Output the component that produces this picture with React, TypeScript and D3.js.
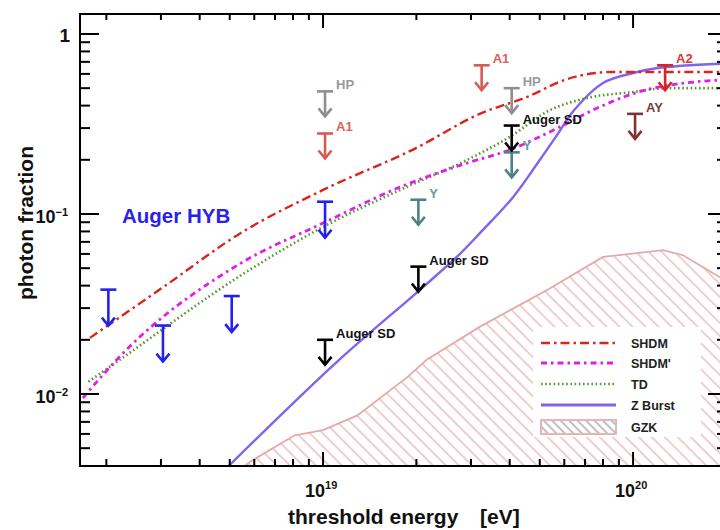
import React from 'react';
import * as d3 from 'd3';

const W = 720;
const H = 530;
const X0 = 80;
const X1 = 727;
const Y0 = 14;
const Y1 = 466;
const FONT = '"Liberation Sans", Arial, Helvetica, sans-serif';

// Model predictions: threshold energy [eV] and photon fraction
const shdmE = [1.77e18, 3.1e18, 5.4e18, 1e19, 2e19, 3.2e19, 4.6e19, 6e19, 8.6e19, 2.1e20];
const shdmF = [0.0205, 0.04, 0.078, 0.136, 0.233, 0.36, 0.45, 0.555, 0.615, 0.615];

const shdmPE = [1.68e18, 2.16e18, 5.4e18, 1e19, 1.77e19, 2.92e19, 4e19, 5.8e19, 7.8e19, 1.13e20, 2.1e20];
const shdmPF = [0.0095, 0.0155, 0.053, 0.089, 0.141, 0.192, 0.227, 0.304, 0.393, 0.495, 0.56];

const tdE = [1.75e18, 2.21e18, 5.4e18, 1e19, 1.77e19, 2.92e19, 4e19, 5.4e19, 7.1e19, 1e20, 1.29e20, 2.1e20];
const tdF = [0.0117, 0.0155, 0.0453, 0.0847, 0.136, 0.2, 0.268, 0.378, 0.441, 0.476, 0.5, 0.5];

const zbE = [4.9e18, 1.1e19, 2.05e19, 2.7e19, 3.2e19, 4.1e19, 5e19, 5.69e19, 6.46e19, 8e19, 1e20, 1.2e20, 2.1e20];
const zbF = [0.0039, 0.0149, 0.0378, 0.0577, 0.078, 0.124, 0.1995, 0.275, 0.378, 0.534, 0.607, 0.647, 0.688];

const gzkE = [5.6e18, 5.94e18, 8.1e18, 1e19, 1.29e19, 1.87e19, 2.16e19, 3.2e19, 5.28e19, 8e19, 1.25e20, 1.45e20, 1.9e20, 2.1e20];
const gzkF = [0.004, 0.0043, 0.0059, 0.0063, 0.0076, 0.0124, 0.0155, 0.0236, 0.0378, 0.0577, 0.063, 0.059, 0.0447, 0.041];

// Upper limits on the photon fraction
const hybE = [2e18, 3e18, 5e18, 1e19];
const hybF = [0.038, 0.024, 0.035, 0.117];
const sdE = [1e19, 2e19, 4e19];
const sdF = [0.02, 0.051, 0.31];
const hpE = [1e19, 4e19];
const hpF = [0.48, 0.5];
const a1E = [1e19, 3.2e19];
const a1F = [0.28, 0.67];
const a2E = [1.25e20];
const a2F = [0.67];
const yakE = [2e19, 4e19];
const yakF = [0.12, 0.22];
const ayE = [1e20];
const ayF = [0.36];

// Axis labels
const xMajorExps = [19, 20];
const yMajorValues = [1, 0.1, 0.01];
const yMajorBase = ['1', '10', '10'];
const yMajorSup = ['', '\u22121', '\u22122'];

const legendNames = ['SHDM', "SHDM'", 'TD', 'Z Burst', 'GZK'];

const xScale = d3.scaleLog().domain([10 ** 18.216, 10 ** 20.303]).range([X0, X1]);
const yScale = d3.scaleLog().domain([10 ** -2.4, 10 ** 0.111]).range([Y1, Y0]);

const C_SHDM = '#d8261c';
const C_SHDMP = '#e01ee8';
const C_TD = '#55992e';
const C_ZB = '#8262ee';
const C_GZK = '#e4a9a9';

function linePath(E: number[], F: number[], curve: d3.CurveFactory) {
  const pts: [number, number][] = E.map((e, i) => [xScale(e), yScale(F[i])]);
  return d3.line().curve(curve)(pts) || '';
}

function gzkArea() {
  const pts: [number, number][] = gzkE.map((e, i) => [xScale(e), yScale(gzkF[i])]);
  const top = d3.line()(pts) || '';
  const last = pts[pts.length - 1];
  const first = pts[0];
  return `${top}L${last[0]},${Y1 + 2}L${first[0]},${Y1 + 2}Z`;
}

type LimitProps = {
  E: number[];
  F: number[];
  color: string;
  len: number;
  label?: string;
  labelColor?: string;
};

function Limits({ E, F, color, len, label, labelColor }: LimitProps) {
  return (
    <g>
      {E.map((e, i) => {
        const cx = xScale(e) + 2;
        const top = yScale(F[i]);
        const tip = top + len;
        return (
          <g key={i}>
            <g stroke={color} strokeWidth={2.6} fill="none">
              <line x1={cx - 8} x2={cx + 8} y1={top} y2={top} />
              <line x1={cx} x2={cx} y1={top} y2={tip} />
              <polyline points={`${cx - 6.5},${tip - 8} ${cx},${tip} ${cx + 6.5},${tip - 8}`} strokeLinejoin="miter" />
            </g>
            {label && (
              <text x={cx + 11} y={top - 2} fontSize={13} fontWeight="bold" fill={labelColor || color} fontFamily={FONT}>
                {label}
              </text>
            )}
          </g>
        );
      })}
    </g>
  );
}

export default function App() {
  const xTicks = xScale.ticks(30);
  const yTicks = yScale.ticks(30);
  const isMajor = (v: number) => Math.abs(Math.log10(v) - Math.round(Math.log10(v))) < 1e-6;

  const legendY = [343, 363, 384, 405, 427];
  const lx0 = 541;
  const lx1 = 616;

  return (
    <svg width={W} height={H} style={{ position: 'absolute', left: 0, top: 0, background: '#fff' }} fontFamily={FONT}>
      <defs>
        <clipPath id="plotClip">
          <rect x={X0} y={Y0} width={X1 - X0} height={Y1 - Y0} />
        </clipPath>
        <pattern id="gzkHatch" patternUnits="userSpaceOnUse" width={12} height={9.2} patternTransform="rotate(45)">
          <line x1={0} x2={12} y1={4.6} y2={4.6} stroke="#ebb5b5" strokeWidth={1.3} />
        </pattern>
        <pattern id="legendHatch" patternUnits="userSpaceOnUse" width={8} height={6} patternTransform="rotate(45)">
          <line x1={0} x2={8} y1={3} y2={3} stroke="#b0b0b0" strokeWidth={1.6} />
        </pattern>
      </defs>

      <g clipPath="url(#plotClip)">
        {/* GZK expectation band */}
        <path d={gzkArea()} fill="url(#gzkHatch)" stroke={C_GZK} strokeWidth={1.8} />

        {/* legend background */}
        <rect x={533} y={327} width={168} height={110} fill="#fff" />

        {/* model curves */}
        <path d={linePath(zbE, zbF, d3.curveCatmullRom.alpha(0.5))} fill="none" stroke={C_ZB} strokeWidth={2.4} />
        <path d={linePath(tdE, tdF, d3.curveMonotoneX)} fill="none" stroke={C_TD} strokeWidth={2.6} strokeDasharray="1.6 2.6" />
        <path d={linePath(shdmPE, shdmPF, d3.curveMonotoneX)} fill="none" stroke={C_SHDMP} strokeWidth={2.8} strokeDasharray="6 4 2.5 4" />
        <path d={linePath(shdmE, shdmF, d3.curveMonotoneX)} fill="none" stroke={C_SHDM} strokeWidth={2.4} strokeDasharray="9 4 2.5 4" />

        {/* experimental upper limits */}
        <Limits E={hpE} F={hpF} color="#8f8f8f" len={25} label="HP" labelColor="#9a9a9a" />
        <Limits E={a1E} F={a1F} color="#d65b57" len={25} label="A1" labelColor="#d9625e" />
        <Limits E={a2E} F={a2F} color="#d42626" len={25} label="A2" labelColor="#d43a3a" />
        <Limits E={ayE} F={ayF} color="#7c3434" len={25} label="AY" labelColor="#7c3c3c" />
        <Limits E={yakE} F={yakF} color="#4f8282" len={25} label="Y" labelColor="#5d9ea3" />
        <Limits E={sdE} F={sdF} color="#000" len={25} label="Auger SD" labelColor="#111" />
        <Limits E={hybE} F={hybF} color="#2420ee" len={36} />
      </g>

      <text x={122} y={223} fontSize={20.5} fontWeight="bold" fill="#2a22ea">
        Auger HYB
      </text>

      {/* legend */}
      <g>
        <line x1={lx0} x2={lx1} y1={legendY[0]} y2={legendY[0]} stroke={C_SHDM} strokeWidth={2.4} strokeDasharray="9 4 2.5 4" />
        <line x1={lx0} x2={lx1} y1={legendY[1]} y2={legendY[1]} stroke={C_SHDMP} strokeWidth={2.8} strokeDasharray="6 4 2.5 4" />
        <line x1={lx0} x2={lx1} y1={legendY[2]} y2={legendY[2]} stroke={C_TD} strokeWidth={2.6} strokeDasharray="1.6 2.6" />
        <line x1={lx0} x2={lx1} y1={legendY[3]} y2={legendY[3]} stroke={C_ZB} strokeWidth={2.8} />
        <rect x={lx0} y={legendY[4] - 7} width={lx1 - lx0} height={14} fill="url(#legendHatch)" stroke="#e6b4b4" strokeWidth={2} />
        {legendNames.map((n, i) => (
          <text key={n} x={631} y={legendY[i] + 4.5} fontSize={12.5} fontWeight="bold" fill="#222">
            {n}
          </text>
        ))}
      </g>

      {/* frame */}
      <g stroke="#000" strokeWidth={2} fill="none">
        <line x1={X0} x2={X0} y1={Y0 - 1} y2={Y1 + 1} />
        <line x1={X0 - 1} x2={X1 + 1} y1={Y0} y2={Y0} />
        <line x1={X0 - 1} x2={X1 + 1} y1={Y1} y2={Y1} />
        <line x1={X1} x2={X1} y1={Y0 - 1} y2={Y1 + 1} />
        {xTicks.map((t, i) => {
          const x = xScale(t);
          if (x <= X0 + 1 || x >= X1 - 1) return null;
          const m = isMajor(t);
          return (
            <g key={'x' + i}>
              <line x1={x} x2={x} y1={Y1} y2={Y1 - (m ? 14 : 7)} />
              <line x1={x} x2={x} y1={Y0} y2={Y0 + (m ? 14 : 6)} />
            </g>
          );
        })}
        {yTicks.map((t, i) => {
          const y = yScale(t);
          if (y <= Y0 + 1 || y >= Y1 - 1) return null;
          const m = isMajor(t);
          return (
            <g key={'y' + i}>
              <line x1={X0} x2={X0 + (m ? 19 : 10)} y1={y} y2={y} />
              <line x1={X1} x2={X1 - (m ? 19 : 10)} y1={y} y2={y} />
            </g>
          );
        })}
      </g>

      {/* tick labels */}
      {xMajorExps.map((e) => {
        const x = xScale(10 ** e);
        return (
          <text key={'xl' + e} x={x - 18} y={497} fontSize={18} fontWeight="bold" fill="#111">
            10
            <tspan dy={-8} fontSize={11}>{e}</tspan>
          </text>
        );
      })}
      {yMajorValues.map((v, i) => {
        const y = yScale(v);
        if (yMajorSup[i] === '') {
          return (
            <text key={'yl' + i} x={70} y={y + 8} fontSize={19} fontWeight="bold" fill="#111" textAnchor="end">
              {yMajorBase[i]}
            </text>
          );
        }
        return (
          <text key={'yl' + i} x={68} y={y + 9} fontSize={18} fontWeight="bold" fill="#111" textAnchor="end">
            {yMajorBase[i]}
            <tspan dy={-7} fontSize={11}>{yMajorSup[i]}</tspan>
          </text>
        );
      })}

      {/* axis titles */}
      <text x={288} y={524} fontSize={21} fontWeight="bold" fill="#111">
        threshold energy
      </text>
      <text x={480} y={524} fontSize={21} fontWeight="bold" fill="#111">
        [eV]
      </text>
      <text
        transform="translate(33,223) rotate(-90)"
        textAnchor="middle"
        fontSize={21}
        fontWeight="bold"
        fill="#111"
      >
        photon fraction
      </text>
    </svg>
  );
}
